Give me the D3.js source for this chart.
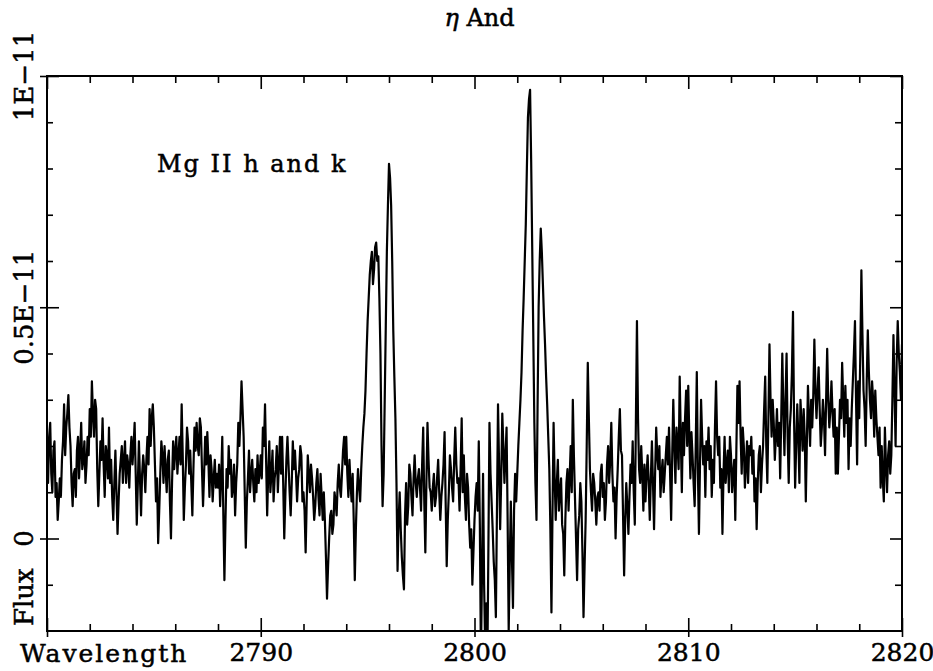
<!DOCTYPE html>
<meta charset="utf-8">
<head>
<style>
body { margin: 0; background: #fff; }
text { font-family: "DejaVu Serif", serif; fill: #000; stroke: #000; stroke-width: 0.5px; }
.frame { fill: none; stroke: #000; stroke-width: 2px; }
.spec { fill: none; stroke: #000; stroke-width: 2.2px; stroke-linejoin: round; }
.axis path { display: none; }
.axis line { stroke: #000; stroke-width: 1.6px; }
.axis text { font-size: 25px; font-family: "DejaVu Serif", serif; }
</style>
<script src="https://d3js.org/d3.v7.min.js"></script>
</head>
<body>
<div id="chart"></div>
<script>

// wavelength grid: start (Angstrom) and step
var lambdaStart = 2780, lambdaStep = 0.1;

// flux in units of 1E-13 on the 0.1 A grid, one row per Angstrom (2780 .. 2819) plus 2820
var flux = [
  18, 22, 14, 19, 9, 4, 13, 17, 29, 24,
  31, 20, 7, 15, 19, 13, 25, 17, 12, 22,
  28, 34, 22, 28, 7, 21, 26, 9, 18, 24,
  17, 4, 19, 1, 14, 20, 17, 12, 16, 18,
  16, 25, 3, 21, 5, 18, 10, 22, 28, 26,
  24, 8, -1, 14, 18, 20, 10, 19, 0, 21,
  19, 14, 22, 29, 4, 16, 21, 19, 5, 24,
  25, 18, 24, 7, 22, 23, 9, 15, 13, 11,
  11, 7, 22, -9, 15, 20, 17, 11, 5, 16,
  20, 34, 22, -2, 13, 10, 17, 8, 10, 12,
  18, 24, 29, 5, 21, 14, 8, 15, 10, 22,
  22, 0, 17, 16, 5, 21, 19, 8, 15, 18,
  10, -3, 18, 10, 13, 4, 12, 9, 14, 4,
  4, -13, 0, 6, 3, 8, 12, 11, 14, 22,
  22, 9, 12, 14, -9, 10, 11, 15, 24, 32,
  47, 57, 62, 58, 64, 61, 40, 7, 30, 62,
  81, 72, 45, 26, -7, 10, -4, -11, 12, 7,
  14, 5, 18, 9, 15, 6, 24, -3, 25, 11,
  6, 14, 9, 17, 4, 12, 23, -6, 10, 15,
  8, 24, 12, 6, 26, 18, 4, 11, -2, -10,
  4, 12, 21, -26, 14, -24, -28, 25, 8, -5,
  -17, 29, 2, 27, 12, 24, -20, 8, -15, 14,
  14, 25, 36, 52, 68, 91, 97, 63, 25, 4,
  50, 67, 55, 42, 29, 15, -16, 25, 4, 17,
  10, 3, -8, 12, 6, 20, 30, 9, -9, 5,
  8, -17, 4, 38, 15, 6, 12, 3, 10, 14,
  9, 4, 16, 12, 25, 8, 0, 15, 28, 18,
  -8, 12, 1, 16, 21, 3, 47, 15, 20, 6,
  8, 18, 4, 21, 2, 24, 15, 9, 17, 14,
  22, 24, 4, 30, 12, 20, 35, 10, 18, 32,
  33, 13, 18, 7, 36, 1, 30, 16, 9, 17,
  15, 9, 12, 34, 18, 11, 1, 22, 16, 10,
  18, 14, 4, 33, 34, 14, 20, 16, 12, 18,
  14, 8, 2, 18, 10, 20, 35, 12, 42, 22,
  25, 22, 20, 13, 40, 18, 40, 12, 28, 49,
  11, 29, 12, 25, 28, 8, 33, 20, 24, 43,
  26, 37, 20, 30, 18, 41, 24, 34, 22, 14,
  14, 30, 38, 22, 25, 15, 20, 34, 47, 16,
  26, 58, 32, 20, 45, 30, 34, 22, 26, 18,
  11, 13, 24, 10, 21, 18, 44, 20, 47, 36,
  42
];

// flux at the half steps (2780.05, 2780.15, ...), same units
var fluxHalf = [
  12, 25, 10, 21, 12, 8, 9, 21, 18, 27,
  24, 12, 14, 9, 22, 19, 15, 21, 16, 18,
  22, 27, 30, 15, 14, 17, 16, 20, 13, 12,
  9, 12, 10, 8, 17, 12, 21, 18, 11, 22,
  20, 14, 12, 13, 14, 15, 17, 16, 20, 29,
  16, 13, 6, 21, 12, 15, 17, 8, 12, 15,
  22, 18, 16, 18, 11, 24, 14, 12, 15, 19,
  20, 26, 15, 14, 16, 17, 18, 8, 17, 14,
  16, 13, 5, 4, 11, 14, 9, 16, 12, 25,
  26, 28, 10, 8, 19, 14, 12, 15, 18, 14,
  13, 20, 17, 14, 10, 19, 13, 20, 16, 14,
  12, 9, 22, 10, 12, 15, 14, 13, 20, 8,
  6, 8, 14, 16, 9, 7, 15, 5, 9, 10,
  -4, -6, 5, 1, 10, 5, 16, 9, 19, 16,
  14, 17, 8, 4, 2, 15, 8, 20, 27, 40,
  52, 60, 55, 63, 60, 52, 20, 14, 46, 72,
  78, 60, 35, 12, 4, 2, -8, 5, 3, 16,
  9, 13, 12, 13, 11, 16, 8, 12, 17, 10,
  11, 7, 13, 10, 9, 16, 8, 4, 18, 11,
  17, 16, 13, 15, 10, 9, 14, 3, 2, -3,
  9, 6, 3, -8, -10, -14, -2, 14, 2, -9,
  6, 16, 13, 20, 18, 4, -5, -4, 6, 8,
  20, 30, 45, 60, 80, 95, 82, 44, 12, 28,
  60, 62, 48, 35, 22, 2, 6, 13, 12, 6,
  13, 1, 4, 15, 13, 10, 18, 0, 2, 12,
  -3, -6, 20, 26, 10, 14, 8, 9, 6, 16,
  12, 8, 20, 17, 14, 11, 9, 22, 19, 5,
  4, 7, 9, 12, 10, 25, 26, 12, 14, 16,
  14, 12, 13, 12, 14, 18, 20, 14, 10, 18,
  16, 14, 18, 20, 24, 15, 22, 25, 26, 20,
  22, 23, 12, 20, 15, 16, 22, 20, 21, 24,
  20, 17, 24, 22, 22, 15, 14, 12, 19, 22,
  10, 17, 19, 25, 22, 24, 11, 21, 20, 22,
  19, 13, 12, 20, 16, 28, 20, 26, 30, 30,
  17, 28, 25, 26, 28, 30, 22, 24, 36, 26,
  20, 22, 30, 19, 22, 21, 26, 30, 31, 32,
  32, 28, 24, 26, 30, 30, 28, 27, 28, 24,
  22, 26, 30, 33, 30, 26, 28, 40, 30, 34,
  40, 44, 28, 34, 36, 26, 30, 32, 22, 24,
  20, 8, 16, 18, 14, 30, 32, 38, 40, 30
];

var xMajor = [2780, 2790, 2800, 2810, 2820];
var xMinor = [2782, 2784, 2786, 2788, 2792, 2794, 2796, 2798, 2802, 2804, 2806, 2808, 2812, 2814, 2816, 2818];
var xLabels = [2790, 2800, 2810, 2820];
var yMajor = [0, 0.5e-11, 1e-11];
var yMinor = [-0.1e-11, 0.1e-11, 0.2e-11, 0.3e-11, 0.4e-11, 0.6e-11, 0.7e-11, 0.8e-11, 0.9e-11];
var yLabels = ["0", "0.5E\u221211", "1E\u221211"];

var W = 933, H = 671;
var margin = {top: 76, right: 31, bottom: 40, left: 47},
  width = W - margin.left - margin.right,
  height = H - margin.top - margin.bottom;

var svg = d3.select("#chart").append("svg")
  .attr("width", W)
  .attr("height", H);

var g = svg.append("g")
  .attr("transform", "translate(" + margin.left + "," + margin.top + ")");

var x = d3.scaleLinear().domain([2780, 2820]).range([0, width]);
var y = d3.scaleLinear().domain([-0.2e-11, 1.0e-11]).range([height, 0]);

// merge the two grids into one spectrum
var data = [];
flux.forEach(function(v, i) {
  data.push({wl: lambdaStart + i * lambdaStep, f: v * 1e-13});
  if (i < fluxHalf.length)
    data.push({wl: lambdaStart + (i + 0.5) * lambdaStep, f: fluxHalf[i] * 1e-13});
});

g.append("clipPath").attr("id", "clip")
  .append("rect").attr("width", width).attr("height", height);

var line = d3.line()
  .x(function(d) { return x(d.wl); })
  .y(function(d) { return y(d.f); });

g.append("path")
  .datum(data)
  .attr("class", "spec")
  .attr("clip-path", "url(#clip)")
  .attr("d", line);

// ticks on all four sides pointing inward; major ones on the bottom/left also stick out
var bottomAx = g.append("g").attr("class", "axis")
  .attr("transform", "translate(0," + height + ")");
bottomAx.append("g").call(d3.axisBottom(x).tickValues(xMinor).tickSize(-7).tickFormat(""));
bottomAx.append("g").call(d3.axisBottom(x).tickValues(xMajor).tickSize(-13).tickFormat(""))
  .selectAll(".tick line").attr("y1", 6);
bottomAx.append("g").call(d3.axisBottom(x).tickValues(xLabels).tickSize(0).tickPadding(12).tickFormat(d3.format("d")));

var topAx = g.append("g").attr("class", "axis");
topAx.append("g").call(d3.axisTop(x).tickValues(xMinor).tickSize(-7).tickFormat(""));
topAx.append("g").call(d3.axisTop(x).tickValues(xMajor).tickSize(-13).tickFormat(""));

var leftAx = g.append("g").attr("class", "axis");
leftAx.append("g").call(d3.axisLeft(y).tickValues(yMinor).tickSize(-6).tickFormat(""));
leftAx.append("g").call(d3.axisLeft(y).tickValues(yMajor).tickSize(-12).tickFormat(""))
  .selectAll(".tick line").attr("x1", -7);

var rightAx = g.append("g").attr("class", "axis")
  .attr("transform", "translate(" + width + ",0)");
rightAx.append("g").call(d3.axisRight(y).tickValues(yMinor).tickSize(-7).tickFormat(""));
rightAx.append("g").call(d3.axisRight(y).tickValues(yMajor).tickSize(-12).tickFormat(""));

g.append("rect").attr("class", "frame")
  .attr("width", width).attr("height", height);

// rotated y labels
yMajor.forEach(function(v, i) {
  svg.append("text")
    .attr("transform", "translate(33," + (margin.top + y(v)) + ") rotate(-90)")
    .attr("text-anchor", "middle")
    .style("font-size", "26px")
    .text(yLabels[i]);
});
svg.append("text")
  .attr("transform", "translate(33," + (margin.top + height - 5) + ") rotate(-90)")
  .style("font-size", "26px")
  .text("Flux");

svg.append("text")
  .attr("x", 20).attr("y", 662)
  .style("font-size", "25px")
  .style("letter-spacing", "2px")
  .text("Wavelength");

svg.append("text")
  .attr("x", 157).attr("y", 172)
  .style("font-size", "24px")
  .style("letter-spacing", "2px")
  .text("Mg II h and k");

var title = svg.append("text")
  .attr("x", margin.left + width / 2 + 5).attr("y", 26)
  .attr("text-anchor", "middle")
  .style("font-size", "24px");
title.append("tspan").style("font-style", "italic").text("\u03b7");
title.append("tspan").text(" And");

</script>
</body>
</html>
